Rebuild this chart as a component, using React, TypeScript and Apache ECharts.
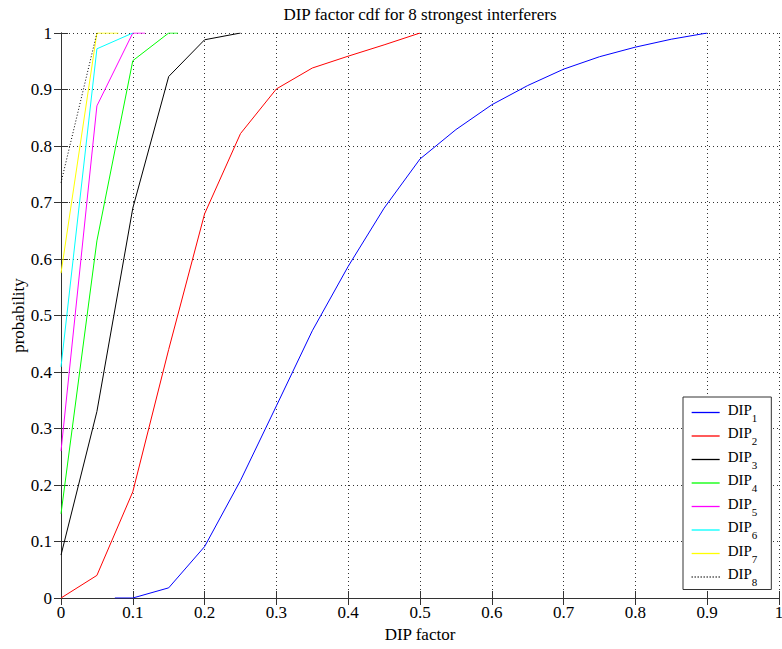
import { useEffect, useRef } from "react";
import * as echarts from "echarts";

// ---- data ----
const seriesNames = ["DIP1", "DIP2", "DIP3", "DIP4", "DIP5", "DIP6", "DIP7", "DIP8"];

const dip1X = [0.075, 0.1, 0.15, 0.2, 0.25, 0.3, 0.35, 0.4, 0.45, 0.5, 0.55, 0.6, 0.65, 0.7, 0.75, 0.8, 0.85, 0.9];
const dip1Y = [0, 0, 0.018, 0.091, 0.208, 0.34, 0.473, 0.587, 0.69, 0.777, 0.829, 0.873, 0.907, 0.936, 0.958, 0.975, 0.989, 1.0];

const dip2X = [0, 0.05, 0.1, 0.15, 0.2, 0.25, 0.3, 0.35, 0.4, 0.45, 0.5];
const dip2Y = [0, 0.04, 0.188, 0.44, 0.68, 0.822, 0.901, 0.938, 0.959, 0.979, 1.0];

const dip3X = [0, 0.05, 0.1, 0.15, 0.2, 0.25];
const dip3Y = [0.076, 0.33, 0.69, 0.923, 0.988, 1.0];

const dip4X = [0, 0.05, 0.1, 0.15, 0.163];
const dip4Y = [0.149, 0.632, 0.951, 1.0, 1.0];

const dip5X = [0, 0.05, 0.1, 0.117];
const dip5Y = [0.26, 0.871, 1.0, 1.0];

const dip6X = [0, 0.05, 0.1];
const dip6Y = [0.409, 0.972, 1.0];

const dip7X = [0, 0.05, 0.08];
const dip7Y = [0.575, 1.0, 1.0];

const dip8X = [0, 0.05];
const dip8Y = [0.735, 1.0];

const allX = [dip1X, dip2X, dip3X, dip4X, dip5X, dip6X, dip7X, dip8X];
const allY = [dip1Y, dip2Y, dip3Y, dip4Y, dip5Y, dip6Y, dip7Y, dip8Y];

const titleText = "DIP factor cdf for 8 strongest interferers";
const xLabel = "DIP factor";
const yLabel = "probability";

// ---- styles ----
const colors = ["#0000ff", "#ff0000", "#000000", "#00ff00", "#ff00ff", "#00ffff", "#ffff00", "#000000"];
const lineTypes: any[] = ["solid", "solid", "solid", "solid", "solid", "solid", "solid", [1, 2]];
const FONT = "Liberation Serif";

export default function App() {
  const ref = useRef<HTMLDivElement>(null);

  useEffect(() => {
    if (!ref.current) return;
    const chart = echarts.init(ref.current, undefined, { renderer: "svg" });

    const series = seriesNames.map((name, i) => ({
      name,
      type: "line",
      data: allX[i].map((x, j) => [x, allY[i][j]]),
      symbol: "none",
      showSymbol: false,
      silent: true,
      color: colors[i],
      lineStyle: { color: colors[i], width: 1, type: lineTypes[i] },
      xAxisIndex: 0,
      yAxisIndex: 0,
    }));

    const axisLine = { show: true, lineStyle: { color: "#333", width: 1 } };
    const axisTick = { show: true, inside: true, length: 7, lineStyle: { color: "#333", width: 1 } };
    const splitLine = { show: true, lineStyle: { color: "#333", width: 1, type: [1, 3] as any } };
    const labelStyle = { color: "#000", fontFamily: FONT, fontSize: 17 };

    chart.setOption({
      animation: false,
      backgroundColor: "#fff",
      grid: { left: 61, right: 3, top: 33, bottom: 51, containLabel: false, outerBoundsMode: "none" },
      xAxis: [
        {
          type: "value",
          min: 0,
          max: 1,
          interval: 0.1,
          position: "bottom",
          axisLine,
          axisTick,
          splitLine,
          axisLabel: { ...labelStyle, margin: 6, formatter: (v: number) => String(Math.round(v * 10) / 10) },
          name: xLabel,
          nameLocation: "middle",
          nameGap: 27,
          nameTextStyle: { ...labelStyle },
        },
        {
          type: "value",
          min: 0,
          max: 1,
          interval: 0.1,
          position: "top",
          axisLine,
          axisTick,
          splitLine: { show: false },
          axisLabel: { show: false },
          name: titleText,
          nameLocation: "middle",
          nameGap: 10,
          nameTextStyle: { ...labelStyle },
        },
      ],
      yAxis: [
        {
          type: "value",
          min: 0,
          max: 1,
          interval: 0.1,
          position: "left",
          axisLine,
          axisTick,
          splitLine,
          axisLabel: { ...labelStyle, margin: 9, formatter: (v: number) => String(Math.round(v * 10) / 10) },
          name: yLabel,
          nameLocation: "middle",
          nameGap: 34,
          nameMoveOverlap: false,
          nameTextStyle: { ...labelStyle },
        },
        {
          type: "value",
          min: 0,
          max: 1,
          interval: 0.1,
          position: "right",
          axisLine,
          axisTick,
          splitLine: { show: false },
          axisLabel: { show: false },
        },
      ],
      legend: {
        show: true,
        orient: "vertical",
        left: 683,
        top: 397,
        padding: [5, 14, 2, 8],
        itemWidth: 28,
        itemHeight: 10,
        itemGap: 2.5,
        backgroundColor: "#fff",
        borderColor: "#333",
        borderWidth: 1,
        borderRadius: 0,
        selectedMode: false,
        data: seriesNames,
        itemStyle: { opacity: 0, borderWidth: 0 },
        lineStyle: { width: 1.3 },
        formatter: (name: string) => `{a|DIP}{b|${name.slice(3)}}`,
        textStyle: {
          color: "#000",
          fontFamily: FONT,
          rich: {
            a: { fontSize: 15, fontFamily: FONT, color: "#000", padding: [0, 0, 6, 3], verticalAlign: "top" },
            b: { fontSize: 11, fontFamily: FONT, color: "#000", verticalAlign: "bottom" },
          },
        },
      },
      series,
    });

    return () => chart.dispose();
  }, []);

  return <div ref={ref} style={{ width: 782, height: 649, position: "absolute", left: 0, top: 0 }} />;
}
